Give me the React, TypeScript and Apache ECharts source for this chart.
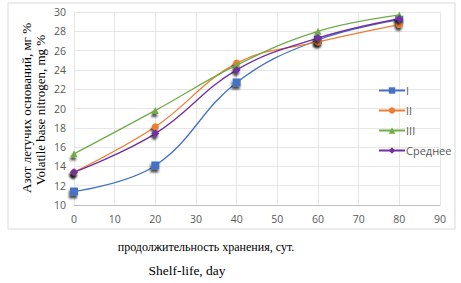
import React, { useEffect, useRef } from "react";
import * as echarts from "echarts";

const days = [0, 20, 40, 60, 80];
const seriesI = [11.4, 14.1, 22.7, 27.1, 29.2];
const seriesII = [13.4, 18.1, 24.7, 26.9, 28.7];
const seriesIII = [15.3, 19.8, 24.5, 28.0, 29.7];
const seriesAvg = [13.4, 17.4, 24.0, 27.3, 29.3];
const names = ["I", "II", "III", "Среднее"];
const yTitle = ["Азот летучих оснований, мг %", "Volatile base nitrogen, mg %"];
const xTitle = ["продолжительность хранения, сут.", "Shelf-life, day"];

const colors = ["#4472C4", "#ED7D31", "#70AD47", "#7030A0"];
const symbols = ["rect", "circle", "triangle", "diamond"];

export default function App() {
  const ref = useRef<HTMLDivElement>(null);
  useEffect(() => {
    const chart = echarts.init(ref.current!, null, { renderer: "svg" });
    const all = [seriesI, seriesII, seriesIII, seriesAvg];
    chart.setOption({
      animation: false,
      backgroundColor: "#fff",
      grid: { left: 74, right: 21, top: 12, bottom: 78 },
      xAxis: {
        type: "value",
        min: 0,
        max: 90,
        interval: 10,
        axisLine: { show: true, lineStyle: { color: "#BFBFBF" } },
        axisTick: { show: false },
        axisLabel: { color: "#595959", fontSize: 10.5, fontFamily: "Open Sans", margin: 8 },
        splitLine: { show: true, lineStyle: { color: "#E6E6E6" } },
      },
      yAxis: {
        type: "value",
        min: 10,
        max: 30,
        interval: 2,
        axisLine: { show: false },
        axisTick: { show: false },
        axisLabel: { color: "#595959", fontSize: 10.5, fontFamily: "Open Sans", margin: 8 },
        splitLine: { show: true, lineStyle: { color: "#E6E6E6" } },
      },
      legend: {
        orient: "vertical",
        left: 373,
        top: 80,
        itemWidth: 26,
        itemHeight: 8,
        itemGap: 9,
        textStyle: { color: "#595959", fontSize: 11, fontFamily: "Open Sans", padding: [0, 0, 0, -4] },
        data: names,
      },
      series: all.map((vals, i) => ({
        name: names[i],
        type: "line",
        smooth: 0.4,
        data: days.map((d, j) => [d, vals[j]]),
        symbol: symbols[i],
        symbolSize: i === 0 ? 8 : i === 3 ? 8 : 7,
        showSymbol: true,
        lineStyle: { color: colors[i], width: 1.3 },
        itemStyle: {
          color: colors[i],
          shadowColor: "rgba(0,0,0,0.7)",
          shadowBlur: 2,
          shadowOffsetY: 3,
          shadowOffsetX: -1,
        },
        z: 2 + i,
      })),
      graphic: [
        {
          type: "rect",
          shape: { x: 8, y: 3, width: 447, height: 226 },
          style: { fill: "none", stroke: "#D9D9D9", lineWidth: 1 },
          silent: true,
          z: -1,
        },
        {
          type: "text",
          x: 26,
          y: 108,
          rotation: Math.PI / 2,
          style: {
            text: yTitle[0],
            font: "13px 'Liberation Serif'",
            fill: "#000",
            align: "center",
            verticalAlign: "middle",
          },
        },
        {
          type: "text",
          x: 40,
          y: 110,
          rotation: Math.PI / 2,
          style: {
            text: yTitle[1],
            font: "13px 'Liberation Serif'",
            fill: "#000",
            align: "center",
            verticalAlign: "middle",
          },
        },
        {
          type: "text",
          x: 206,
          y: 247,
          style: {
            text: xTitle[0],
            font: "12px 'Liberation Serif'",
            fill: "#000",
            align: "center",
            verticalAlign: "middle",
          },
        },
        {
          type: "text",
          x: 187,
          y: 270,
          style: {
            text: xTitle[1],
            font: "13.5px 'Liberation Serif'",
            fill: "#000",
            align: "center",
            verticalAlign: "middle",
          },
        },
      ],
    });
    return () => chart.dispose();
  }, []);
  return <div ref={ref} style={{ position: "absolute", left: 0, top: 0, width: 461, height: 283 }} />;
}
